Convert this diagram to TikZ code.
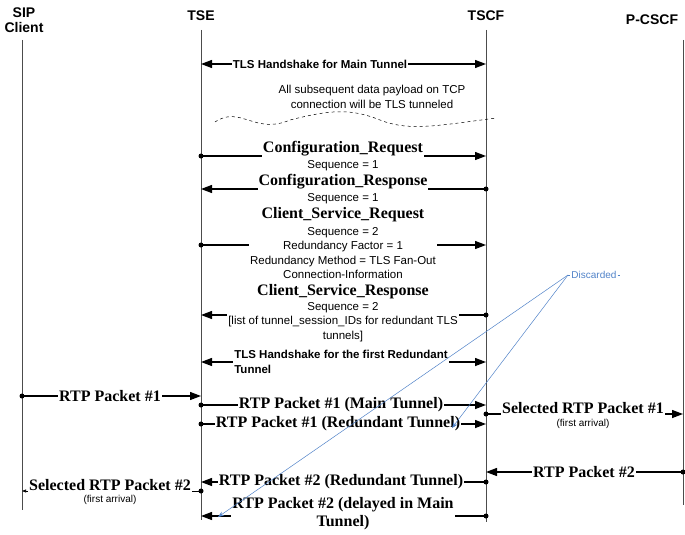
\documentclass[tikz,border=0pt]{standalone}
\usepackage{fontspec}
\setmainfont{Liberation Sans}
\newfontfamily\tms{Liberation Serif}
\usetikzlibrary{arrows.meta,decorations.pathmorphing}
\begin{document}
\begin{tikzpicture}[x=1pt,y=-1pt,
  life/.style={draw=black!70,line width=0.8pt},
  msg/.style={line width=1.3pt,-{Triangle[length=11pt,width=8pt]}},
  dmsg/.style={line width=1.3pt,{Triangle[length=11pt,width=8pt]}-{Triangle[length=11pt,width=8pt]}},
  hdr/.style={font=\bfseries\fontsize{14}{15}\selectfont,align=center},
  big/.style={font=\tms\bfseries\fontsize{16}{17}\selectfont,fill=white,inner sep=1pt},
  sm/.style={font=\fontsize{11.5}{14.5}\selectfont,align=center,inner sep=1pt},
  smb/.style={font=\bfseries\fontsize{11.5}{14.5}\selectfont,fill=white,inner sep=1pt,align=left},
  tiny/.style={font=\fontsize{10}{11}\selectfont,inner sep=1pt},
  dot/.style={circle,fill=black,inner sep=0pt,minimum size=5pt},
  disc/.style={draw={rgb,255:red,80;green,130;blue,200},line width=0.5pt},
]
\useasboundingbox (0,0) rectangle (685,535);
% headers
\node[hdr] (hsip) at (24,20) {SIP\\Client};
\node[hdr] (htse) at (201,16) {TSE};
\node[hdr] (htscf) at (486,16) {TSCF};
\node[hdr] (hpc) at (652,20) {P-CSCF};
% lifelines
\coordinate (s0) at (22,40); \coordinate (s1) at (22,510);
\coordinate (t0) at (201,30); \coordinate (t1) at (201,520);
\coordinate (f0) at (486,30); \coordinate (f1) at (486,522);
\coordinate (p0) at (683,40); \coordinate (p1) at (683,505);
\draw[life] (s0)--(s1); \draw[life] (t0)--(t1); \draw[life] (f0)--(f1); \draw[life] (p0)--(p1);
% TLS main
\coordinate (a1) at (201,64); \coordinate (b1) at (486,64);
\draw[dmsg] (a1)--(b1);
\node[smb] (m1) at (320,64) {TLS Handshake for Main Tunnel};
\node[sm] (note) at (372,97) {All subsequent data payload on TCP\\connection will be TLS tunneled};
\draw[dashed,line width=0.5pt] (215,122) .. controls (240,105) and (255,135) .. (290,120)
  .. controls (330,110) and (350,108) .. (380,120) .. controls (410,132) and (440,125) .. (497,118);
% Config request
\node[dot] (d2) at (201,156) {}; \coordinate (e2) at (486,156);
\draw[msg] (d2.center)--(e2);
\node[big] (m2) at (343,149) {Configuration\_Request};
\node[sm] (q2) at (343,166) {Sequence = 1};
% Config response
\node[dot] (d3) at (486,189) {}; \coordinate (e3) at (201,189);
\draw[msg] (d3.center)--(e3);
\node[big] (m3) at (343,182) {Configuration\_Response};
\node[sm] (q3) at (343,199) {Sequence = 1};
% Client service request
\node[dot] (d4) at (201,245) {}; \coordinate (e4) at (486,245);
\draw[msg] (d4.center)--(e4);
\node[big,fill=none] (m4) at (343,215) {Client\_Service\_Request};
\node[sm,fill=white] (q4) at (343,253) {Sequence = 2\\Redundancy Factor = 1\\Redundancy Method = TLS Fan-Out\\Connection-Information};
% Client service response
\node[dot] (d5) at (486,315) {}; \coordinate (e5) at (201,315);
\draw[msg] (d5.center)--(e5);
\node[big,fill=none] (m5) at (343,292) {Client\_Service\_Response};
\node[sm,fill=white] (q5) at (343,322) {Sequence = 2\\{}{[list of tunnel\_session\_IDs for redundant TLS}\\tunnels]};
% TLS redundant
\coordinate (a6) at (201,362); \coordinate (b6) at (486,362);
\draw[dmsg] (a6)--(b6);
\node[smb] (m6) at (341,362) {TLS Handshake for the first Redundant\\Tunnel};
% RTP 1
\node[dot] (d7) at (22,396) {}; \coordinate (e7) at (201,396);
\draw[msg] (d7.center)--(e7);
\node[big] (m7) at (110,396) {RTP Packet \#1};
\node[dot] (d8) at (201,405) {}; \coordinate (e8) at (486,405);
\draw[msg] (d8.center)--(e8);
\node[big] (m8) at (341,405) {RTP Packet \#1 (Main Tunnel)};
\node[dot] (d9) at (201,424) {}; \coordinate (e9) at (486,424);
\draw[msg] (d9.center)--(e9);
\node[big] (m9) at (338,424) {RTP Packet \#1 (Redundant Tunnel)};
\node[dot] (d10) at (486,414) {}; \coordinate (e10) at (683,414);
\draw[msg] (d10.center)--(e10);
\node[big] (m10) at (583,408) {Selected RTP Packet \#1};
\node[tiny] (n10) at (583,424) {(first arrival)};
% RTP 2
\node[dot] (d11) at (683,472) {}; \coordinate (e11) at (486,472);
\draw[msg] (d11.center)--(e11);
\node[big] (m11) at (584,472) {RTP Packet \#2};
\node[dot] (d12) at (486,482) {}; \coordinate (e12) at (201,482);
\draw[msg] (d12.center)--(e12);
\node[big] (m12) at (341,482) {RTP Packet \#2 (Redundant Tunnel)};
\node[dot] (d13) at (201,491) {}; \coordinate (e13) at (22,491);
\draw[line width=0.6pt,-{Triangle[length=4pt,width=3pt]}] (d13.center)--(e13);
\node[big] (m13) at (110,485) {Selected RTP Packet \#2};
\node[tiny,fill=white] (n13) at (110,500) {(first arrival)};
\node[dot] (d14) at (486,516) {}; \coordinate (e14) at (201,516);
\draw[msg] (d14.center)--(e14);
\node[big,align=center,font=\tms\bfseries\fontsize{16}{18}\selectfont] (m14) at (343,514) {RTP Packet \#2 (delayed in Main\\Tunnel)};
% Discarded
\node[font=\fontsize{10}{11}\selectfont,text={rgb,255:red,80;green,130;blue,200},inner sep=1pt] (dl) at (594,275) {Discarded};
\coordinate (dl0) at (568,275); \coordinate (dl1) at (620,275);
\draw[disc] (dl0)--(dl.west); \draw[disc] (dl.east)--(dl1);
\coordinate (x1) at (452,428); \coordinate (x2) at (218,517);
\draw[disc,-{Stealth[length=6pt]}] (dl0)--(x1);
\draw[disc,-{Stealth[length=6pt]}] (dl0)--(x2);
\end{tikzpicture}
\end{document}
